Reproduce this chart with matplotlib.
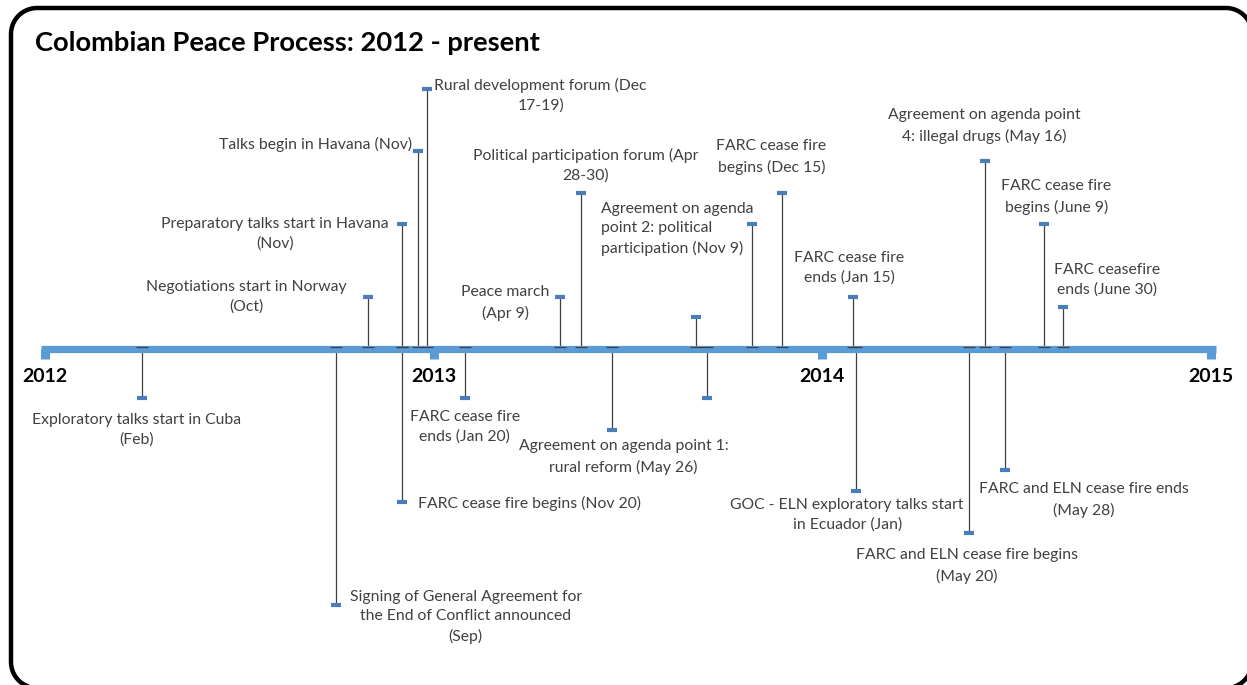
import numpy as np
import matplotlib.pyplot as plt

plt.rcParams['font.family'] = ['Lato', 'DejaVu Sans']

# Events of the timeline: position on the time axis (years)
# and stem height (pixels above / below the axis line)
etiquetas = [
    "Exploratory talks start in Cuba\n(Feb)",
    "Signing of General Agreement for\nthe End of Conflict announced\n(Sep)",
    "Negotiations start in Norway\n(Oct)",
    "Preparatory talks start in Havana\n(Nov)",
    "FARC cease fire begins (Nov 20)",
    "Talks begin in Havana (Nov)",
    "Rural development forum (Dec\n17-19)",
    "FARC cease fire\nends (Jan 20)",
    "Peace march\n(Apr 9)",
    "Political participation forum (Apr\n28-30)",
    "Agreement on agenda point 1:\nrural reform (May 26)",
    "",
    "",
    "Agreement on agenda\npoint 2: political\nparticipation (Nov 9)",
    "FARC cease fire\nbegins (Dec 15)",
    "FARC cease fire\nends (Jan 15)",
    "GOC - ELN exploratory talks start\nin Ecuador (Jan)",
    "FARC and ELN cease fire begins\n(May 20)",
    "Agreement on agenda point\n4: illegal drugs (May 16)",
    "FARC and ELN cease fire ends\n(May 28)",
    "FARC cease fire\nbegins (June 9)",
    "FARC ceasefire\nends (June 30)",
]
fechas = [2012.249, 2012.748, 2012.830, 2012.918, 2012.918, 2012.959, 2012.982,
          2013.080, 2013.326, 2013.378, 2013.460, 2013.676, 2013.702, 2013.820,
          2013.897, 2014.080, 2014.087, 2014.378, 2014.419, 2014.470, 2014.571,
          2014.620]
alturas = [-49, -256, 52, 125, -153, 198, 260, -49, 52, 156, -81, 32, -49, 125,
           156, 52, -142, -184, 188, -121, 125, 42]
anios = [2012, 2013, 2014, 2015]

# label placement relative to the marker (dx, dy in pixels, alignment)
desplazamientos = [(-5, -32), (130, -12), (-121, 0), (-127, -10), (16, -1),
                   (-6, 7), (114, -6), (0, -29), (-55, -6), (5, 28), (11, -27),
                   (0, 0), (0, 0), (-151, -5), (-11, 36), (-4, 29), (-9, -24),
                   (-2, -33), (-1, 35), (79, -30), (12, 27), (44, 27)]
alineacion = ['center', 'center', 'center', 'center', 'left', 'right', 'center',
              'center', 'center', 'center', 'center', 'center', 'center', 'left',
              'center', 'center', 'center', 'center', 'center', 'center',
              'center', 'center']

W, H = 1247, 685
px_anio = (1211 - 45) / 3.0
azul_eje = '#5B9BD5'
azul_marca = '#4A7EBB'
gris = '#404040'

fig = plt.figure(figsize=(W / 100, H / 100), dpi=100)

# frame with rounded corners, in pixel coordinates (runs past the right/bottom edge)
marco = fig.add_axes([0, 0, 1, 1], zorder=0)
marco.set_xlim(0, W)
marco.set_ylim(H, 0)
marco.axis('off')
izq, arr, der, aba, r = 11, 8, 1252, 688, 26
ang = np.linspace(0, np.pi / 2, 20)
bx, by = [], []
for cx, cy, a0 in [(der - r, arr + r, 0), (izq + r, arr + r, np.pi / 2),
                   (izq + r, aba - r, np.pi), (der - r, aba - r, 1.5 * np.pi)]:
    bx.extend(cx + r * np.cos(a0 + ang))
    by.extend(cy - r * np.sin(a0 + ang))
bx.append(bx[0])
by.append(by[0])
marco.plot(bx, by, color='black', lw=3.2, solid_joinstyle='round')

ax = fig.add_axes([0, 0, 1, 1], zorder=1)
ax.patch.set_alpha(0)
x0 = 2012 - 45 / px_anio
ax.set_xlim(x0, x0 + W / px_anio)
ax.set_ylim(349 - H, 349)
ax.axis('off')

# main axis line with hanging year tabs
medio = 4.5 / px_anio
ax.plot([anios[0] - medio, anios[-1] + medio], [0, 0], color=azul_eje, lw=5.2,
        solid_capstyle='butt', zorder=2)
ax.vlines(anios, -10, 0, color=azul_eje, lw=6.5, zorder=2)
for a in anios:
    ax.text(a, -27, str(a), ha='center', va='center', fontsize=14,
            fontweight='bold', color='black')

# stems, caps on the axis and blue end markers
ax.vlines(fechas, 0, alturas, color=gris, lw=0.9, zorder=1)
ax.plot(fechas, [2] * len(fechas), ls='none', marker='_', ms=8.5, mew=0.9,
        color=gris, zorder=3)
ax.plot(fechas, alturas, ls='none', marker='_', ms=7.5, mew=3, color=azul_marca,
        zorder=3)

for txt, f, h, (dx, dy), ha in zip(etiquetas, fechas, alturas, desplazamientos,
                                   alineacion):
    if not txt:
        continue
    ax.annotate(txt, (f, h), xytext=(dx, dy), textcoords='offset pixels',
                ha=ha, va='center', multialignment=ha if ha == 'left' else 'center',
                fontsize=11.3, color=gris, linespacing=1.5)

fig.text(35 / W, 1 - 43 / H, "Colombian Peace Process: 2012 - present",
         ha='left', va='center', fontsize=19.7, fontweight='bold', color='black')

fig.savefig('out.png', dpi=100)
